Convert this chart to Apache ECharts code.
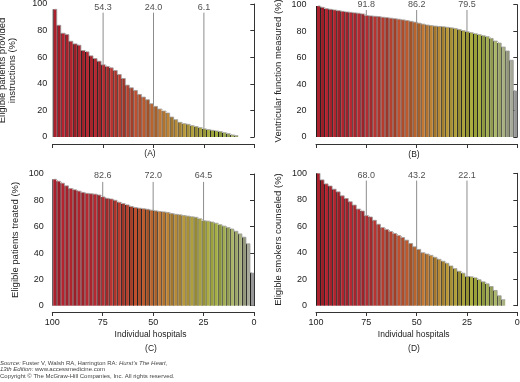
<!DOCTYPE html>
<html><head><meta charset="utf-8">
<script src="https://cdn.jsdelivr.net/npm/echarts@6/dist/echarts.min.js"></script>
<style>html,body{margin:0;padding:0;background:#fff}#c{width:520px;height:382px}</style>
</head><body><div id="c"></div>
<script>
// ---------- DATA ----------
const percentiles = [99,97,95,93,91,89,87,85,83,81,79,77,75,73,71,69,67,65,63,61,59,57,55,53,51,49,47,45,43,41,39,37,35,33,31,29,27,25,23,21,19,17,15,13,11,9,7,5,3,1];
const instructions = [96,84,78,77,72,70,69,65,64,61,59,57,54.3,53,52,50,47,44,39,37,35,32,30,28,25,23,21,19.5,18,15,13,11,10,9.5,8.5,7.8,7,6.1,5.5,5,4.5,4,3.2,2.5,1.5,1,'-','-','-','-'];
const ventricular = [99,98,97,96.5,96,95.5,95,94.5,94.2,93.8,93.5,93,91.8,91.5,91.2,91,90.5,90.2,89.8,89.4,89,88.5,88,87.4,86.8,86,85.3,84.6,84.2,83.8,83.5,83.3,82.9,82.5,82,81.2,80.3,79.5,78.8,78,77.3,76.5,75.8,74.5,72.5,71,68,65,58,35];
const treated = [96,94.5,93,91,89,88,87,86,85.3,85,84.7,84,82.6,81.5,81,80,78.5,77.5,76.5,75.3,74.5,74,73.6,73.2,72.5,72,71.5,71.2,70.8,70,69.4,69,68.5,68,67.5,67.1,66,64.5,64.2,63.5,62.6,61.5,60.4,59.3,58.2,56.5,54.5,52,47,25];
const smokers = [100,95,92,90.4,88,86,83,81,78.5,76,73,71.5,68,67,64.5,61.5,59,57.5,56,54.5,53,51.5,49.5,47,44.5,42.5,40,39,38,36.5,35,33.5,32,30,28,26,24.5,22.1,21.8,21,19.6,18,16.5,14.5,11.5,7.5,4.5,'-','-','-'];
const markerPercentiles = [75,50,25];
const instructionsMarks = [54.3,24.0,6.1];
const ventricularMarks = [91.8,86.2,79.5];
const treatedMarks = [82.6,72.0,64.5];
const smokersMarks = [68.0,43.2,22.1];
const xTickValues = [100,75,50,25,0];
const yTickValues = [0,20,40,60,80,100];
const yTitles = ['Eligible patients provided\ninstructions (%)','Ventricular function measured (%)','Eligible patients treated (%)','Eligible smokers counseled (%)'];
const panelLetters = ['(A)','(B)','(C)','(D)'];
const xTitle = 'Individual hospitals';

// ---------- STYLE / LAYOUT ----------
const FONT = "'Liberation Sans', Arial, sans-serif";
const panels = [
  {vals: instructions, marks: instructionsMarks, grid:{left:52.7,top:4,width:201.6,height:133}, yOff:2.5, xOff:7, gap:33, labelY:97.5, lineTop:93.5, xLabels:false, letter:[150,154]},
  {vals: ventricular, marks: ventricularMarks, grid:{left:316,top:4.7,width:201.3,height:132.3}, yOff:6.5, xOff:7, gap:26, labelY:99.8, lineTop:96, xLabels:false, letter:[414,155]},
  {vals: treated, marks: treatedMarks, grid:{left:52.3,top:174,width:201.7,height:131.7}, yOff:5.6, xOff:6.3, gap:26, labelY:99, lineTop:94, xLabels:true, letter:[151,349], title:[150.5,335]},
  {vals: smokers, marks: smokersMarks, grid:{left:316,top:173.3,width:201.3,height:132.4}, yOff:6, xOff:6.3, gap:27, labelY:98.3, lineTop:94.5, xLabels:true, letter:[414,349], title:[413.7,335]}
];
const stops = [[0,[170,32,44]],[0.22,[176,40,48]],[0.36,[180,62,46]],[0.48,[186,96,44]],[0.58,[186,132,50]],[0.7,[172,156,56]],[0.82,[160,172,62]],[0.92,[164,174,110]],[1,[168,168,168]]];
const shade = [1,0.9,1.04,0.95,1.02,0.88];
function colorAt(i, n){
  const t = i/(n-1);
  let a = stops[0], b = stops[stops.length-1];
  for (let k=0;k<stops.length-1;k++){ if (t>=stops[k][0] && t<=stops[k+1][0]){a=stops[k];b=stops[k+1];break;} }
  const f = (t-a[0])/((b[0]-a[0])||1);
  const s = shade[i%shade.length];
  const c = a[1].map((v,j)=>Math.max(0,Math.min(255,Math.round((v+(b[1][j]-v)*f)*s))));
  return 'rgb('+c.join(',')+')';
}

const grids=[], xAxes=[], yAxes=[], series=[], graphics=[];
panels.forEach((p,k)=>{
  grids.push(Object.assign({outerBoundsMode:'none', containLabel:false}, p.grid));
  xAxes.push({gridIndex:k, type:'category', data:percentiles, show:false, boundaryGap:true});
  xAxes.push({gridIndex:k, type:'value', min:0, max:100, interval:25, inverse:true, position:'bottom', offset:p.xOff,
    axisLine:{show:true, lineStyle:{color:'#333', width:1}},
    axisTick:{show:true, length:4, lineStyle:{color:'#333'}},
    axisLabel:{show:p.xLabels, fontSize:9, color:'#222', margin:6, fontFamily:FONT,
      formatter:v=> xTickValues.indexOf(v)>=0 ? String(v) : ''},
    splitLine:{show:false}});
  yAxes.push({gridIndex:k, type:'value', min:0, max:100, interval:20, offset:p.yOff,
    axisLine:{show:true, lineStyle:{color:'#333', width:1}},
    axisTick:{show:true, length:4, lineStyle:{color:'#333'}},
    axisLabel:{fontSize:9, color:'#222', margin:3, fontFamily:FONT,
      formatter:v=> yTickValues.indexOf(v)>=0 ? String(v) : ''},
    splitLine:{show:false},
    name:yTitles[k], nameLocation:'middle', nameGap:p.gap,
    nameTextStyle:{fontSize:9.5, color:'#222', fontFamily:FONT, lineHeight:10}});
  series.push({type:'bar', xAxisIndex:2*k, yAxisIndex:k, data:p.vals, barWidth:1, barGap:'0%',
    itemStyle:{color:'#1c1c1c'}, silent:true});
  series.push({type:'bar', xAxisIndex:2*k, yAxisIndex:k, data:p.vals, barWidth:3, barGap:'0%',
    itemStyle:{color:(prm)=>colorAt(prm.dataIndex, percentiles.length)}, silent:true});
  series.push({type:'line', xAxisIndex:2*k, yAxisIndex:k, data:p.vals, step:'middle', symbol:'none',
    lineStyle:{color:'#9a9a9a', width:0.8}, silent:true, z:3});
  markerPercentiles.forEach((mp,j)=>{
    series.push({type:'line', xAxisIndex:2*k+1, yAxisIndex:k, data:[[mp,p.marks[j]],[mp,p.lineTop]], symbol:'none',
      lineStyle:{color:'#8c8c8c', width:1}, silent:true, z:4});
  });
  series.push({type:'scatter', xAxisIndex:2*k+1, yAxisIndex:k, symbolSize:1, itemStyle:{color:'rgba(0,0,0,0)'},
    data: markerPercentiles.map(mp=>[mp,p.labelY]), silent:true, z:5,
    label:{show:true, position:'inside', fontSize:9, color:'#222', fontFamily:FONT,
      formatter:(prm)=>p.marks[prm.dataIndex].toFixed(1)}});
  graphics.push({type:'text', x:p.letter[0], y:p.letter[1], style:{text:panelLetters[k], align:'center', verticalAlign:'middle', font:'8.5px '+FONT, fill:'#222'}});
  if (p.title) graphics.push({type:'text', x:p.title[0], y:p.title[1], style:{text:xTitle, align:'center', verticalAlign:'middle', font:'8.5px '+FONT, fill:'#222'}});
});
graphics.push({type:'text', x:0, y:363, style:{text:"{i|Source:} Fuster V, Walsh RA, Harrington RA: {i|Hurst's The Heart,}", verticalAlign:'middle', font:'6px '+FONT, fill:'#444', rich:{i:{fontStyle:'italic', fontSize:6, fontFamily:FONT, fill:'#444'}}}});
graphics.push({type:'text', x:0, y:369.5, style:{text:"{i|13th Edition:} www.accessmedicine.com", verticalAlign:'middle', font:'6px '+FONT, fill:'#444', rich:{i:{fontStyle:'italic', fontSize:6, fontFamily:FONT, fill:'#444'}}}});
graphics.push({type:'text', x:0, y:376.7, style:{text:"Copyright \u00A9 The McGraw-Hill Companies, Inc. All rights reserved.", verticalAlign:'middle', font:'6px '+FONT, fill:'#444'}});

const chart = echarts.init(document.getElementById('c'), null, {renderer:'canvas'});
chart.setOption({animation:false, backgroundColor:'#fff', grid:grids, xAxis:xAxes, yAxis:yAxes, series:series, graphic:graphics});
</script>
</body></html>
